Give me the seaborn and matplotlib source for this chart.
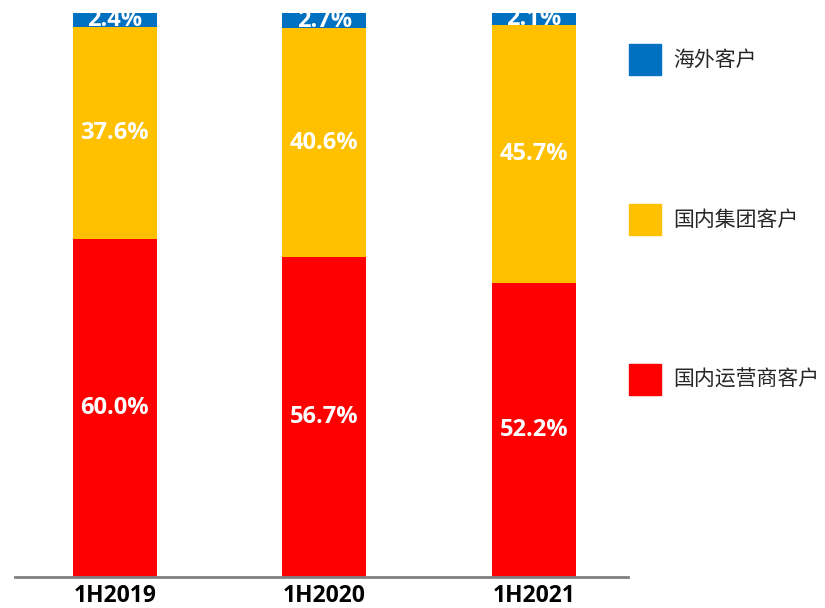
import matplotlib.pyplot as plt
import matplotlib.patches as mpatches
import pandas as pd
import seaborn as sns

periods = ["1H2019", "1H2020", "1H2021"]
operator = [60.0, 56.7, 52.2]   # 国内运营商客户
group = [37.6, 40.6, 45.7]      # 国内集团客户
overseas = [2.4, 2.7, 2.1]      # 海外客户

names = ["海外客户", "国内集团客户", "国内运营商客户"]
colors = ["#0070C0", "#FFC000", "#FF0000"]

if __name__ == "__main__":
    sns.set_theme(style="white")
    plt.rcParams['font.family'] = ['Noto Sans CJK SC', 'DejaVu Sans']

    df = pd.DataFrame({"period": periods, "operator": operator,
                       "group": group, "overseas": overseas})
    df["bottom_group"] = df["operator"]
    df["bottom_over"] = df["operator"] + df["group"]

    fig = plt.figure(figsize=(8.25, 6.08), dpi=100)
    ax = fig.add_axes([0.018, 0.051, 0.743, 0.9276])

    layers = [("operator", None, colors[2]),
              ("group", "bottom_group", colors[1]),
              ("overseas", "bottom_over", colors[0])]
    for col, bot, c in layers:
        kw = {}
        if bot is not None:
            kw["bottom"] = df[bot].values
        sns.barplot(data=df, x="period", y=col, color=c, width=0.4,
                    saturation=1, ax=ax, linewidth=0, **kw)

    for cont, col in zip(ax.containers, ["operator", "group", "overseas"]):
        ax.bar_label(cont, labels=[f"{v:.1f}%" for v in df[col]],
                     label_type="center", color="white", fontsize=17,
                     fontweight="bold", family=["Open Sans", "DejaVu Sans"])

    ax.set_xlim(-0.477, 2.449)
    ax.set_ylim(0, 100)
    ax.set_xlabel("")
    ax.set_ylabel("")
    ax.set_yticks([])
    for s in ["top", "left", "right"]:
        ax.spines[s].set_visible(False)
    ax.spines["bottom"].set_color("#808080")
    ax.spines["bottom"].set_linewidth(2)
    ax.tick_params(axis="x", length=0, pad=5)
    for t in ax.get_xticklabels():
        t.set_fontsize(16.5)
        t.set_fontweight("bold")
        t.set_family(["Open Sans", "DejaVu Sans"])
        t.set_color("black")

    handles = [mpatches.Patch(color=c, label=n) for n, c in zip(names, colors)]
    fig.legend(handles=handles, loc="upper left", bbox_to_anchor=(0.740, 0.959),
               frameon=False, fontsize=15, handlelength=1.5, handleheight=1.91,
               labelspacing=6.2, handletextpad=0.6, labelcolor="#262626")

    fig.savefig("out.png", dpi=100)
